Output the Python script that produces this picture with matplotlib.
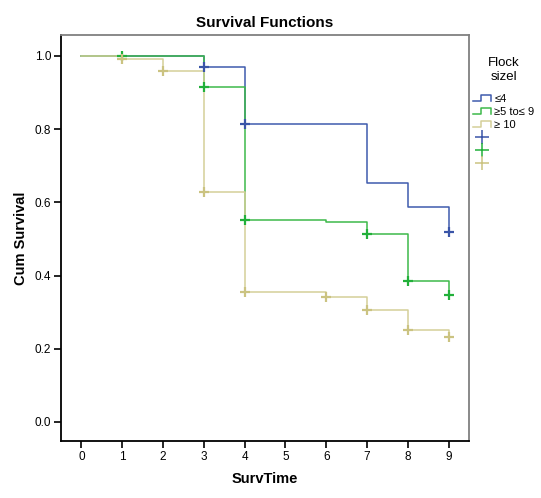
import matplotlib
matplotlib.use("Agg")
import matplotlib.pyplot as plt
from matplotlib.lines import Line2D
from matplotlib.legend_handler import HandlerBase

plt.rcParams['font.family'] = ['Liberation Sans', 'DejaVu Sans']

# step data per group: times where the curve changes, survival after the change
groups = ['\u22644', '\u22655 to\u2264 9', '\u2265 10']
colors = ['#3F5BAD', '#3DB94A', '#D4CF98']
mark_colors = ['#3A55A8', '#22B03A', '#CBC381']

times_small = [0, 3, 4, 7, 8, 9]
surv_small = [1.0, 0.970, 0.813, 0.652, 0.586, 0.520]
cens_t_small = [3, 4, 9]
cens_s_small = [0.970, 0.813, 0.520]

times_mid = [0, 1, 3, 4, 6, 7, 8, 9]
surv_mid = [1.0, 1.0, 0.915, 0.552, 0.546, 0.513, 0.385, 0.347]
cens_t_mid = [1, 3, 4, 7, 8, 9]
cens_s_mid = [1.0, 0.915, 0.552, 0.513, 0.385, 0.347]

times_big = [0, 1, 2, 3, 4, 6, 7, 8, 9]
surv_big = [1.0, 0.991, 0.960, 0.628, 0.356, 0.342, 0.307, 0.250, 0.233]
cens_t_big = [1, 2, 3, 4, 6, 7, 8, 9]
cens_s_big = [0.991, 0.960, 0.628, 0.356, 0.342, 0.307, 0.250, 0.233]

times = [times_small, times_mid, times_big]
survs = [surv_small, surv_mid, surv_big]
cens_t = [cens_t_small, cens_t_mid, cens_t_big]
cens_s = [cens_s_small, cens_s_mid, cens_s_big]


class StepHandler(HandlerBase):
    def create_artists(self, legend, orig_handle, xdescent, ydescent,
                       width, height, fontsize, trans):
        w, h = width, height
        xs = [-xdescent, -xdescent + 0.45 * w, -xdescent + 0.45 * w,
              -xdescent + w, -xdescent + w]
        ys = [-ydescent + 0.1 * h, -ydescent + 0.1 * h, -ydescent + 0.9 * h,
              -ydescent + 0.9 * h, -ydescent + 0.1 * h]
        ln = Line2D(xs, ys, color=orig_handle.get_color(), lw=1.1,
                    transform=trans)
        return [ln]


fig = plt.figure(figsize=(5.41, 4.98), dpi=100)
ax = fig.add_axes([61 / 541, 1 - 441 / 498, 408 / 541, 406 / 498])

for i in range(3):
    ax.step(times[i], survs[i], where='post', color=colors[i], lw=1.1)
for i in range(3):
    ax.plot(cens_t[i], cens_s[i], ls='none', marker='+', ms=6.5, mew=1.6,
            color=mark_colors[i])

ax.set_xlim(-0.5, 9.5)
ax.set_ylim(-0.052, 1.057)
ax.set_xticks(range(10))
ax.set_yticks([0.0, 0.2, 0.4, 0.6, 0.8, 1.0])
ax.set_yticklabels(['0.0', '0.2', '0.4', '0.6', '0.8', '1.0'])
ax.tick_params(direction='out', length=5, width=1.2, labelsize=8.5,
               colors='black', pad=2)
for side in ['top', 'right']:
    ax.spines[side].set_color('#808080')
    ax.spines[side].set_linewidth(1.3)
for side in ['left', 'bottom']:
    ax.spines[side].set_color('black')
    ax.spines[side].set_linewidth(1.3)

ax.set_title('Survival Functions', fontsize=11, fontweight='bold', pad=6)
ax.set_xlabel('SurvTime', fontsize=10.5, fontweight='bold', labelpad=7)
ax.set_ylabel('Cum Survival', fontsize=10.5, fontweight='bold', labelpad=5)

step_handles = [Line2D([], [], color=c) for c in colors]
mark_handles = [Line2D([], [], color=c, marker='+', ms=10, mew=1.1, ls='none')
                for c in mark_colors]
hmap = {h: StepHandler() for h in step_handles}
leg = fig.legend(step_handles + mark_handles, groups + ['', '', ''],
                 handler_map=hmap, loc='upper left',
                 bbox_to_anchor=(471 / 541, 1 - 55 / 498),
                 frameon=False, fontsize=8, title='Flock\nsizel',
                 title_fontsize=9.5, handlelength=1.6, handletextpad=0.3,
                 labelspacing=0.28, borderpad=0.2, borderaxespad=0)
leg.get_title().set_multialignment('center')
leg.get_title().set_linespacing(1.15)
leg._legend_box.sep = 8

fig.savefig('out.png', dpi=100)
